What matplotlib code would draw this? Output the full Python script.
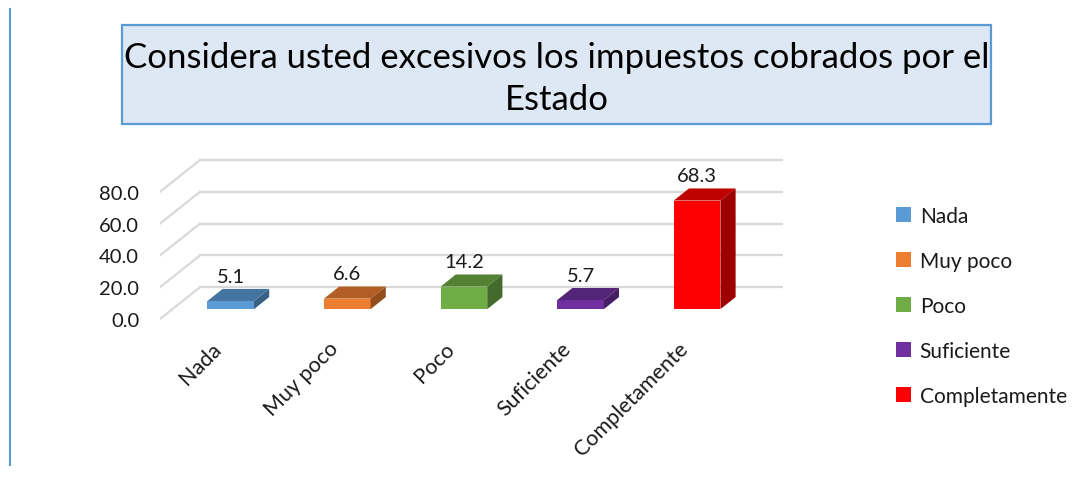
import matplotlib
matplotlib.use("Agg")
import matplotlib.pyplot as plt
from matplotlib import font_manager
from matplotlib.patches import Polygon, Rectangle, Patch
from matplotlib.lines import Line2D
from matplotlib.colors import to_rgb

# data
categories = ["Nada", "Muy poco", "Poco", "Suficiente", "Completamente"]
values = [5.1, 6.6, 14.2, 5.7, 68.3]
colors = ["#5b9bd5", "#ed7d31", "#70ad47", "#7030a0", "#ff0000"]
yticks = [0, 20, 40, 60, 80]
title = "Considera usted excesivos los impuestos cobrados por el\nEstado"

W, H = 1091, 481
installed = {f.name for f in font_manager.fontManager.ttflist}
body = "Lato" if "Lato" in installed else "DejaVu Sans"
plt.rcParams["font.family"] = [body, "DejaVu Sans"]

# fake 3D: depth 0 = front of floor, 1 = back wall
OX, OY = 0.343, 20.0        # shift of the back wall, in data units
D0, D1 = 0.31, 0.69         # depth range taken by the bars
BW = 0.4

# pixel mapping of the plot area
SX, SY = 116.6, 1.59        # px per category, px per value unit
X0, Y0 = 160, 320           # pixel of (x=-0.5, y=0) at the front
xlim = (-0.5, 4.5 + OX)
ylim = (-5, 103)


def shade(c, f):
    r, g, b = to_rgb(c)
    return (r * f, g * f, b * f)


fig = plt.figure(figsize=(W / 100, H / 100), dpi=100)
left = X0 / W
bottom = (H - (Y0 - ylim[0] * SY)) / H
ax = fig.add_axes([left, bottom, (xlim[1] - xlim[0]) * SX / W, (ylim[1] - ylim[0]) * SY / H])
ax.set_xlim(*xlim)
ax.set_ylim(*ylim)
for s in ax.spines.values():
    s.set_visible(False)

# gridlines: back wall + left wall diagonals
grid_c = "#d9d9d9"
for v in yticks:
    ax.plot([-0.5, -0.5 + OX], [v, v + OY], color=grid_c, lw=1.6, zorder=1)
    ax.plot([-0.5 + OX, 4.5 + OX], [v + OY, v + OY], color=grid_c, lw=1.6, zorder=1)

# bars with top and side faces
for i, (v, c) in enumerate(zip(values, colors)):
    xl = i - BW / 2 + D0 * OX
    xr = i + BW / 2 + D0 * OX
    yb = D0 * OY
    dx = (D1 - D0) * OX
    dy = (D1 - D0) * OY
    ax.bar(i + D0 * OX, v, width=BW, bottom=yb, color=c, zorder=3)
    ax.add_patch(Polygon([(xl, yb + v), (xr, yb + v), (xr + dx, yb + v + dy), (xl + dx, yb + v + dy)],
                         closed=True, facecolor=shade(c, 0.75), edgecolor="none", zorder=3))
    ax.add_patch(Polygon([(xr, yb), (xr, yb + v), (xr + dx, yb + v + dy), (xr + dx, yb + dy)],
                         closed=True, facecolor=shade(c, 0.62), edgecolor="none", zorder=3))
    ax.text(i + D0 * OX, v + D1 * OY + 8, f"{v:.1f}", ha="center", va="center",
            fontsize=14.5, color="#1a1a1a", zorder=4)

ax.set_yticks(yticks)
ax.set_yticklabels([f"{v:.1f}" for v in yticks], fontsize=14.5, color="#1a1a1a")
ax.tick_params(axis="y", length=0, pad=15)
ax.set_xticks([i + 0.06 for i in range(len(categories))])
ax.set_xticklabels(categories, rotation=45, ha="right", fontsize=15.5, color="#1a1a1a")
ax.tick_params(axis="x", length=0, pad=8)

# legend
handles = [Patch(facecolor=c, edgecolor="none") for c in colors]
fig.legend(handles, categories, loc="center left", bbox_to_anchor=(877 / W, 1 - 307 / H),
           frameon=False, fontsize=15, handlelength=0.75, handleheight=0.75,
           handletextpad=0.4, labelspacing=1.2, labelcolor="#1a1a1a")

# title box
fig.add_artist(Rectangle((122 / W, 1 - 125 / H), (991 - 122) / W, 99 / H,
                         transform=fig.transFigure, facecolor="#dee8f4",
                         edgecolor="#5b9bd5", lw=1.6))
fig.text(556.5 / W, 1 - 79 / H, title, ha="center", va="center", fontsize=25,
         linespacing=1.35, color="#000000")

# left border line
fig.add_artist(Line2D([10 / W, 10 / W], [1 - 10 / H, 1 - 466 / H],
                      transform=fig.transFigure, color="#5b9bd5", lw=1.5))

fig.savefig("out.png", dpi=100)
